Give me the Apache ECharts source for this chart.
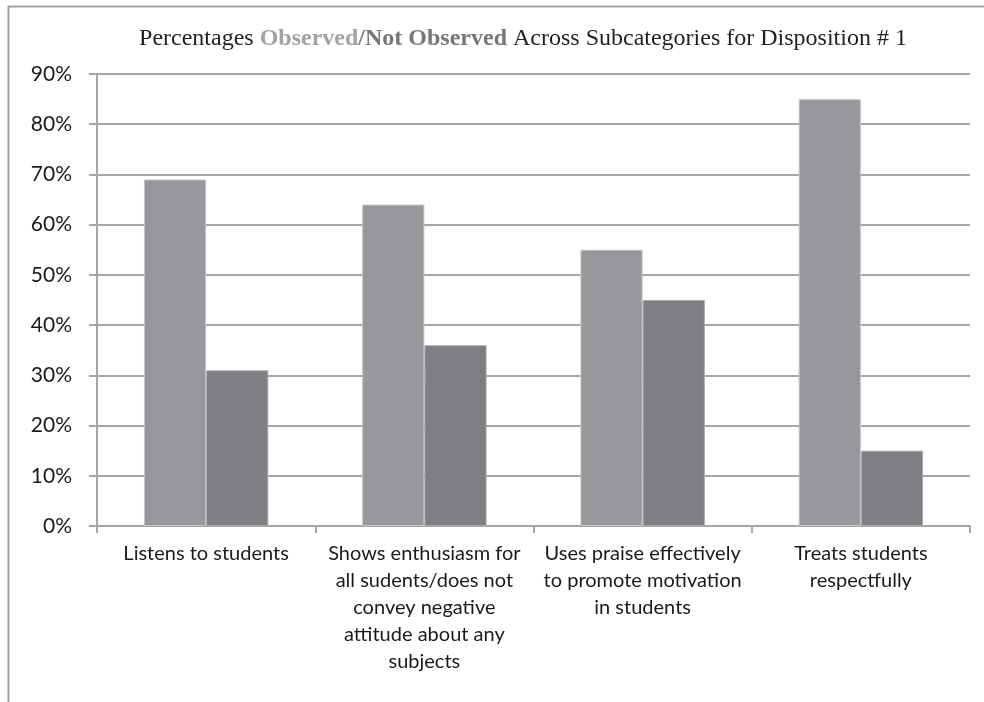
<!DOCTYPE html>
<html>
<head>
<meta charset="utf-8">
<script src="https://cdn.jsdelivr.net/npm/echarts@6/dist/echarts.min.js"></script>
<style>
  html, body { margin: 0; padding: 0; background: #fff; }
  #chart { width: 984px; height: 702px; }
</style>
</head>
<body>
<div id="chart"></div>
<script>
// categories (line breaks as in the original chart)
var categories = [
  "Listens to students",
  "Shows enthusiasm for\nall sudents/does not\nconvey negative\nattitude about any\nsubjects",
  "Uses praise effectively\nto promote motivation\nin students",
  "Treats students\nrespectfully"
];
var observed = [69, 64, 55, 85];
var notObserved = [31, 36, 45, 15];
var yTicks = [0, 10, 20, 30, 40, 50, 60, 70, 80, 90];

var chart = echarts.init(document.getElementById("chart"));

chart.setOption({
  backgroundColor: "#ffffff",
  animation: false,
  title: {
    left: 518,
    textAlign: "center",
    top: 22,
    text: "{n|Percentages }{o|Observed}{s|/}{no|Not Observed}{n| Across Subcategories for Disposition # 1}",
    textStyle: {
      rich: {
        n: { fontFamily: "Liberation Serif", fontSize: 24, fontWeight: "normal", color: "#231f20" },
        o: { fontFamily: "Liberation Serif", fontSize: 24, color: "#a2a3a6", fontWeight: "bold" },
        s: { fontFamily: "Liberation Serif", fontSize: 24, color: "#7a7b7e", fontWeight: "bold" },
        no: { fontFamily: "Liberation Serif", fontSize: 24, color: "#76777a", fontWeight: "bold" }
      }
    }
  },
  graphic: [
    {
      type: "polyline",
      silent: true,
      shape: { points: [[8.5, 702], [8.5, 6.5], [984, 6.5]] },
      style: { stroke: "#a3a3a3", lineWidth: 2, fill: null }
    }
  ],
  grid: {
    left: 97,
    right: 14,
    top: 74,
    bottom: 176,
    containLabel: false
  },
  xAxis: {
    type: "category",
    data: categories,
    axisLine: { show: true, lineStyle: { color: "#a6a6a6", width: 2 } },
    axisTick: { show: true, alignWithLabel: false, length: 7, lineStyle: { color: "#a6a6a6", width: 2 } },
    axisLabel: {
      interval: 0,
      margin: 14,
      fontFamily: "Lato",
      fontSize: 20,
      lineHeight: 27,
      color: "#1a1a1a",
      align: "center"
    }
  },
  yAxis: {
    type: "value",
    min: 0,
    max: 90,
    interval: 10,
    axisLine: { show: true, lineStyle: { color: "#a6a6a6", width: 2 } },
    axisTick: { show: true, length: 8, lineStyle: { color: "#a6a6a6", width: 2 } },
    axisLabel: {
      margin: 25,
      fontFamily: "Lato",
      fontSize: 21,
      color: "#1a1a1a",
      formatter: function (v) {
        return yTicks.indexOf(v) >= 0 ? v + "%" : "";
      }
    },
    splitLine: { show: true, lineStyle: { color: "#a6a6a6", width: 2 } }
  },
  series: [
    {
      name: "Observed",
      type: "bar",
      data: observed,
      barGap: "0%",
      barCategoryGap: "43%",
      itemStyle: { color: "#97989b", borderColor: "#c4c4c6", borderWidth: 1 }
    },
    {
      name: "Not Observed",
      type: "bar",
      data: notObserved,
      itemStyle: { color: "#7e7f83", borderColor: "#a9aaac", borderWidth: 1 }
    }
  ]
});
</script>
</body>
</html>
